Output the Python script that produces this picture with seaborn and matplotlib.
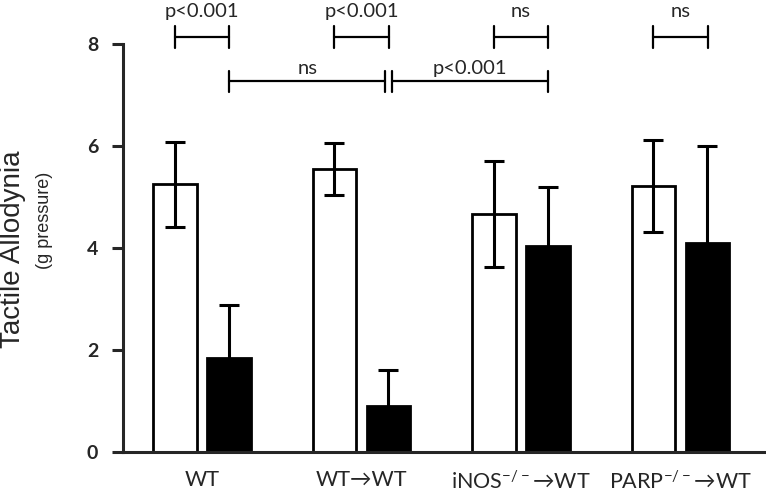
import numpy as np
import pandas as pd
import matplotlib
matplotlib.use("Agg")
import matplotlib.pyplot as plt
import seaborn as sns

# data
groups = ["WT", "WT\u2192WT", "iNOS$^{-/-}$\u2192WT", "PARP$^{-/-}$\u2192WT"]
conditions = ["baseline", "treated"]
open_vals = [5.25, 5.55, 4.67, 5.22]
open_err = [0.83, 0.51, 1.04, 0.90]
black_vals = [1.85, 0.90, 4.03, 4.10]
black_err = [1.03, 0.70, 1.17, 1.90]

# brackets: (x1, x2, level, label), x in group index +/- 0.17 for open/black
brackets = [
    (0 - 0.17, 0 + 0.17, "top", "p<0.001"),
    (1 - 0.17, 1 + 0.17, "top", "p<0.001"),
    (2 - 0.17, 2 + 0.17, "top", "ns"),
    (3 - 0.17, 3 + 0.17, "top", "ns"),
    (0 + 0.17, 1 + 0.15, "low", "ns"),
    (1 + 0.19, 2 + 0.17, "low", "p<0.001"),
]
level_y = {"top": 8.14, "low": 7.27}
text_off = {"top": 0.34, "low": 0.08}

df = pd.DataFrame({
    "group": groups * 2,
    "cond": [conditions[0]] * 4 + [conditions[1]] * 4,
    "value": open_vals + black_vals,
})

sns.set_style("white")
plt.rcParams["font.family"] = ["Lato", "DejaVu Sans"]
plt.rcParams["mathtext.default"] = "regular"

fig = plt.figure(figsize=(7.66, 4.96), dpi=100)
ax = fig.add_axes([0.1606, 0.0887, 0.838, 0.8226])

sns.barplot(data=df, x="group", y="value", hue="cond", order=groups,
            hue_order=conditions, palette=["white", "black"], width=0.678,
            gap=0.2, errorbar=None, edgecolor="black", linewidth=2,
            legend=False, ax=ax)

for cont, errs in zip(ax.containers, [open_err, black_err]):
    xs = [p.get_x() + p.get_width() / 2 for p in cont.patches]
    hs = [p.get_height() for p in cont.patches]
    ax.errorbar(xs, hs, yerr=errs, fmt="none", ecolor="black",
                elinewidth=2.2, capsize=7.5, capthick=2.2, zorder=5)

for x1, x2, lev, lab in brackets:
    y = level_y[lev]
    ax.plot([x1, x2], [y, y], color="black", lw=1.6, clip_on=False)
    for xx in (x1, x2):
        ax.plot([xx, xx], [y - 0.21, y + 0.21], color="black", lw=1.6,
                clip_on=False)
    ax.text((x1 + x2) / 2, y + text_off[lev], lab, ha="center", va="bottom",
            fontsize=14.5)

ax.set_ylim(0, 8)
ax.set_xlim(-0.495, 3.53)
ax.set_yticks([0, 2, 4, 6, 8])
ax.set_xlabel("")
ax.set_ylabel("")
for lab in ax.get_yticklabels():
    lab.set_fontweight("bold")
ax.tick_params(axis="y", direction="out", length=8, width=2.2,
               labelsize=14, pad=10, left=True)
ax.tick_params(axis="x", length=0, labelsize=15.5, pad=13)
sns.despine(ax=ax)
ax.spines["left"].set_linewidth(2.2)
ax.spines["bottom"].set_linewidth(2.2)

fig.text(0.017, 0.498, "Tactile Allodynia", rotation=90, ha="center",
         va="center", fontsize=20, family="Liberation Sans")
fig.text(0.058, 0.556, "(g pressure)", rotation=90, ha="center",
         va="center", fontsize=13, family="Liberation Sans")

fig.savefig("out.png", dpi=100)
